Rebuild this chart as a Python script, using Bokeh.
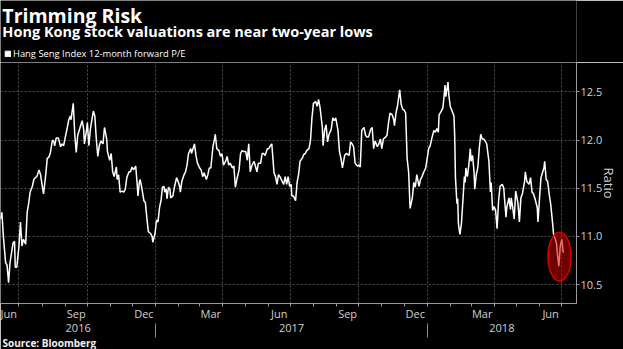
import pandas as pd
from bokeh.plotting import figure
from bokeh.layouts import column
from bokeh.models import (ColumnDataSource, FixedTicker, DatetimeAxis, DatetimeTickFormatter,
                          PrintfTickFormatter, Title, Label, Legend, LegendItem, Range1d)
from bokeh.embed import file_html
from bokeh.resources import INLINE

# ---------------- data ----------------
start_date = "2016-06-06"

day_offset_a = [0, 2, 4, 7, 9, 11, 13, 17, 19, 20, 22, 25, 27, 29, 31, 34, 36, 38, 40, 43,
                45, 47, 49, 52, 54, 56, 58, 61, 63, 65, 67, 70, 72, 73, 75, 78, 81, 83, 85, 87,
                90, 92, 94, 95, 98, 100, 102, 104, 108, 110, 112, 113, 116, 117, 119, 121, 123, 125, 127, 129,
                131, 133, 135, 138, 140, 143, 144, 147, 149, 151, 153, 156, 157, 159, 161, 164, 166, 168, 170, 173,
                175, 177, 179, 182, 184, 185, 187]
pe_a = [11.18, 11.25, 11.00, 10.73, 10.70, 10.52, 10.73, 10.93, 10.95, 10.68, 10.68, 10.90, 11.15, 10.90, 10.97, 10.92, 11.25, 11.34, 11.46, 11.52,
        11.59, 11.61, 11.62, 11.69, 11.64, 11.54, 11.44, 11.64, 11.81, 11.82, 11.86, 12.00, 11.98, 11.94, 12.02, 12.02, 11.93, 11.96, 11.94, 12.02,
        12.13, 12.21, 12.25, 12.21, 12.38, 12.06, 11.87, 12.05, 12.15, 12.20, 12.11, 11.96, 12.11, 12.18, 11.94, 12.11, 12.21, 12.30, 12.25, 12.01,
        11.83, 11.94, 11.99, 11.96, 12.13, 12.01, 11.88, 11.79, 11.86, 11.67, 11.62, 11.72, 11.59, 11.64, 11.46, 11.47, 11.46, 11.49, 11.61, 11.67,
        11.67, 11.72, 11.69, 11.73, 11.54, 11.42, 11.57]

day_offset_b = [188, 190, 193, 195, 197, 199, 202, 204, 205, 208, 210, 212, 214, 216, 218, 220, 221, 223, 224, 226,
                228, 229, 232, 234, 237, 239, 241, 242, 244, 247, 249, 251, 253, 256, 257, 259, 261, 263, 265, 268,
                270, 272, 274, 277, 279, 281, 283, 286, 288, 289, 291, 294, 296, 298, 300, 303, 305, 307, 309, 312,
                314, 316, 318, 321, 323, 325, 327, 330, 332, 334, 336, 338, 341, 343, 345, 347, 350, 352, 354, 356,
                359, 361, 363, 365, 368, 370, 372, 374]
pe_b = [11.59, 11.51, 11.37, 11.35, 11.19, 11.05, 11.03, 11.00, 10.94, 11.03, 11.17, 11.15, 11.30, 11.37, 11.51, 11.52, 11.46, 11.49, 11.39, 11.51,
        11.49, 11.40, 11.42, 11.51, 11.61, 11.57, 11.52, 11.46, 11.57, 11.64, 11.67, 11.74, 11.86, 11.91, 11.86, 11.91, 11.96, 11.84, 11.76, 11.71,
        11.69, 11.62, 11.66, 11.59, 11.64, 11.71, 11.71, 11.94, 12.01, 12.06, 11.91, 11.89, 11.83, 11.86, 11.74, 11.78, 11.83, 11.74, 11.76, 11.71,
        11.73, 11.51, 11.59, 11.69, 11.86, 11.89, 11.88, 11.88, 11.79, 11.96, 11.67, 11.73, 11.78, 11.73, 11.67, 11.76, 11.76, 11.86, 11.86, 11.84,
        11.91, 11.91, 11.94, 11.96, 11.66, 11.62, 11.54, 11.64]

day_offset_c = [376, 379, 381, 383, 385, 387, 389, 391, 392, 394, 397, 399, 401, 403, 406, 408, 410, 412, 415, 417,
                419, 421, 424, 426, 428, 430, 433, 434, 436, 438, 440, 442, 445, 447, 449, 451, 454, 456, 458, 460,
                463, 465, 467, 469, 471, 473, 475, 477, 480, 482, 484, 486, 489, 491, 493, 495, 498, 500, 502, 504,
                507, 509, 511, 513, 515, 518, 520, 522, 524, 527, 529, 530, 532, 534, 537, 539, 541, 543, 545, 547,
                549, 551, 554, 556, 558, 560, 563]
pe_c = [11.62, 11.57, 11.54, 11.62, 11.54, 11.62, 11.52, 11.54, 11.42, 11.42, 11.37, 11.56, 11.64, 11.78, 11.81, 11.85, 11.86, 11.89, 11.91, 11.99,
        12.23, 12.38, 12.40, 12.35, 12.42, 12.33, 12.13, 11.94, 12.10, 12.16, 11.98, 12.06, 12.11, 12.23, 12.20, 12.23, 12.10, 11.88, 11.81, 11.71,
        11.84, 11.86, 11.85, 11.84, 11.98, 11.96, 11.93, 11.76, 11.73, 11.74, 11.72, 12.10, 12.13, 12.05, 12.03, 12.03, 12.11, 12.13, 11.91, 11.99,
        11.93, 11.96, 12.01, 11.91, 12.01, 12.03, 12.05, 12.18, 12.28, 12.26, 12.21, 12.15, 12.28, 12.35, 12.52, 12.37, 12.32, 12.31, 12.28, 11.81,
        11.67, 11.29, 11.40, 11.56, 11.51, 11.64, 11.52]

day_offset_d = [565, 567, 569, 572, 574, 576, 578, 580, 583, 585, 587, 589, 590, 593, 595, 596, 598, 599, 602, 603,
                605, 607, 610, 611, 612, 614, 615, 616, 618, 620, 622, 624, 625, 626, 628, 630, 632, 633, 635, 637,
                638, 640, 642, 644, 646, 648, 650, 652, 654, 657, 659, 660, 662, 664, 666, 668, 670, 672, 675, 677,
                678, 680, 681, 684, 686, 687, 689, 691, 693, 696, 698, 700, 702, 705, 706, 708, 711, 713, 715, 717,
                719, 722, 723, 725, 727, 729, 731, 732, 734, 736, 738, 740, 742, 744, 746, 748, 749, 751, 753, 755,
                757]
pe_d = [11.59, 11.62, 11.66, 11.71, 11.81, 11.91, 11.94, 12.01, 12.10, 12.08, 12.12, 12.08, 12.26, 12.30, 12.33, 12.40, 12.57, 12.45, 12.60, 12.47,
        12.35, 12.31, 12.25, 12.04, 11.61, 11.34, 11.39, 11.13, 11.02, 11.13, 11.37, 11.62, 11.56, 11.71, 11.62, 11.74, 11.91, 11.78, 11.84, 11.67,
        11.49, 11.64, 11.71, 11.91, 12.06, 12.01, 12.01, 11.99, 11.96, 11.78, 11.46, 11.56, 11.27, 11.31, 11.27, 11.08, 11.37, 11.52, 11.54, 11.50,
        11.39, 11.20, 11.30, 11.40, 11.28, 11.40, 11.30, 11.18, 11.47, 11.35, 11.15, 11.40, 11.44, 11.57, 11.67, 11.57, 11.54, 11.61, 11.46, 11.44,
        11.39, 11.30, 11.15, 11.39, 11.61, 11.66, 11.71, 11.78, 11.59, 11.57, 11.44, 11.34, 11.19, 11.02, 10.98, 10.92, 10.83, 10.69, 10.90, 10.97,
        10.83]

y_ticks = [10.5, 11.0, 11.5, 12.0, 12.5]
month_label_dates = ["2016-06-16", "2016-09-16", "2016-12-16", "2017-03-16", "2017-06-16",
                     "2017-09-16", "2017-12-16", "2018-03-16", "2018-06-16"]
year_bounds = ["2017-01-01", "2018-01-01"]
x_start, x_end = "2016-06-06 03:36", "2018-07-20 19:00"
y_start, y_end = 10.304, 12.804

highlight_center = "2018-06-28"
highlight_days_wide = 31
highlight_pe = 10.79
highlight_pe_span = 0.505

title_text = "Trimming Risk"
subtitle_text = "Hong Kong stock valuations are near two-year lows"
legend_text = "Hang Seng Index 12-month forward P/E"
source_text = "Source: Bloomberg"

# ---------------- build ----------------
def ms(s):
    return pd.Timestamp(s).value / 1e6

offsets = day_offset_a + day_offset_b + day_offset_c + day_offset_d
values = pe_a + pe_b + pe_c + pe_d
dates = pd.Timestamp(start_date) + pd.to_timedelta(offsets, unit="D")
src = ColumnDataSource(data=dict(date=dates, pe=values))

W = 623
HEAD_H = 62
MAIN_H = 349 - HEAD_H
FONT = "Open Sans"
GRID = "#505050"
AXIS = "#9a9a9a"
TICKTXT = "#d0d0d0"
NAN = float("nan")

# ---- header figure: titles + legend (frame covers whole header, y grows downward) ----
head = figure(width=W, height=HEAD_H, output_backend="svg", toolbar_location=None, title=None,
              x_range=Range1d(0, W), y_range=Range1d(HEAD_H, 0),
              min_border=0, x_axis_type=None, y_axis_type=None)
head.background_fill_color = "black"
head.border_fill_color = "black"
head.outline_line_color = None
head.grid.visible = False
head.add_layout(Label(x=2, y=15, text=title_text, text_font=FONT, text_font_style="bold",
                      text_font_size="19.5px", text_color="white", text_baseline="alphabetic"))
head.add_layout(Label(x=2, y=30.5, text=subtitle_text, text_font=FONT, text_font_style="bold",
                      text_font_size="14.5px", text_color="white", text_baseline="alphabetic"))
# legend swatch: a renderer with no visible mark, used only for its legend square
sq = head.quad(left=[NAN], right=[NAN], top=[NAN], bottom=[NAN], fill_color="white", line_color="white")
leg = Legend(items=[LegendItem(label=legend_text, renderers=[sq])], location=(4, 2),
             background_fill_alpha=0, border_line_color=None, label_text_color="white",
             label_text_font=FONT, label_text_font_size="9.4px", glyph_width=7, glyph_height=7,
             label_height=10, label_standoff=2, padding=0, margin=0, spacing=0)
head.add_layout(leg, "center")

# ---- main chart ----
p = figure(width=W, height=MAIN_H, x_axis_type="datetime", y_axis_location="right",
           output_backend="svg", toolbar_location=None, title=None,
           x_range=Range1d(ms(x_start), ms(x_end)), y_range=Range1d(y_start, y_end),
           min_border_top=0, min_border_bottom=40, min_border_left=0, min_border_right=47)
p.background_fill_color = "black"
p.border_fill_color = "black"
p.outline_line_color = None

# month axis
month_starts = [ms(d) for d in pd.date_range("2016-07-01", "2018-07-01", freq="MS")]
quarter_starts = [ms(d) for d in pd.date_range("2016-07-01", "2018-07-01", freq="QS-JAN")]
xa = p.xaxis[0]
xa.ticker = FixedTicker(ticks=[ms(d) for d in month_label_dates], minor_ticks=month_starts)
fmt_kw = {k: "%b" for k in ["microseconds", "milliseconds", "seconds", "minsec", "minutes",
                            "hourmin", "hours", "days", "months", "years"]}
xa.formatter = DatetimeTickFormatter(**fmt_kw)
xa.major_tick_out = 0
xa.major_tick_in = 0
xa.minor_tick_out = 3
xa.minor_tick_in = 0
xa.minor_tick_line_color = AXIS
xa.axis_line_color = AXIS
xa.major_label_standoff = -1
xa.major_label_text_color = TICKTXT
xa.major_label_text_font = FONT
xa.major_label_text_font_size = "11px"

# year axis
t_start, t_end = ms(x_start), ms(x_end)
b0, b1 = ms(year_bounds[0]), ms(year_bounds[1])
year_label_pos = [(t_start + b0) / 2, (b0 + b1) / 2, (b1 + t_end) / 2]
ya_fmt = {k: "%Y" for k in fmt_kw}
yr = DatetimeAxis(ticker=FixedTicker(ticks=year_label_pos, minor_ticks=[b0, b1]),
                  formatter=DatetimeTickFormatter(**ya_fmt))
yr.axis_line_color = None
yr.major_tick_line_color = None
yr.major_tick_out = 0
yr.major_tick_in = 0
yr.minor_tick_line_color = "#8a8a8a"
yr.minor_tick_in = 0
yr.minor_tick_out = 14
yr.major_label_standoff = -14
yr.major_label_text_color = TICKTXT
yr.major_label_text_font = FONT
yr.major_label_text_font_size = "11px"
p.add_layout(yr, "below")

# y axis (right)
ya = p.yaxis[0]
ya.ticker = FixedTicker(ticks=y_ticks)
ya.formatter = PrintfTickFormatter(format="%.1f")
ya.major_tick_out = 3
ya.major_tick_in = 0
ya.minor_tick_line_color = None
ya.axis_line_color = AXIS
ya.major_tick_line_color = AXIS
ya.major_label_standoff = 1
ya.major_label_text_color = TICKTXT
ya.major_label_text_font = FONT
ya.major_label_text_font_size = "11px"
ya.axis_label = "Ratio"
ya.axis_label_standoff = -5
ya.axis_label_text_color = TICKTXT
ya.axis_label_text_font = FONT
ya.axis_label_text_font_style = "normal"
ya.axis_label_text_font_size = "13px"

# grids
p.xgrid.ticker = FixedTicker(ticks=quarter_starts)
p.ygrid.ticker = FixedTicker(ticks=y_ticks)
for g in (p.xgrid[0], p.ygrid[0]):
    g.grid_line_color = GRID
    g.grid_line_dash = "2 2"
    g.grid_line_width = 1

# series
p.line(x="date", y="pe", source=src, line_color="white", line_width=1.5)

# highlight ellipse
p.ellipse(x=[ms(highlight_center)], y=[highlight_pe],
          width=[highlight_days_wide * 86400000], height=[highlight_pe_span],
          fill_color="#c80000", fill_alpha=0.55, line_color="#d40000", line_width=1.5)

p.add_layout(Title(text=source_text, align="left", offset=2, standoff=-1,
                   text_font=FONT, text_font_style="bold", text_font_size="10px",
                   text_color="#f0f0f0"), "below")

layout = column(head, p, spacing=0)
open("out.html", "w").write(file_html(layout, INLINE))
